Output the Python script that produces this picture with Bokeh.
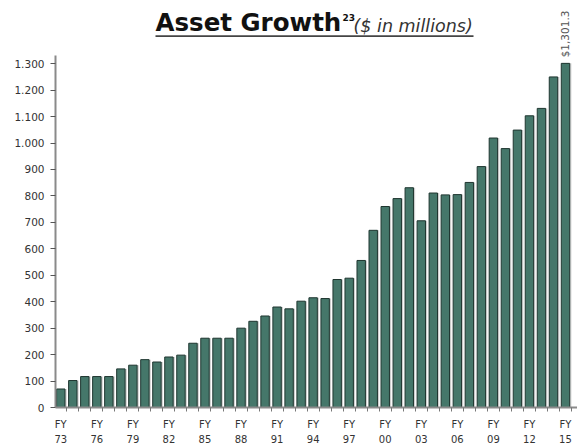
import math
from bokeh.plotting import figure
from bokeh.models import (ColumnDataSource, FixedTicker, Range1d, Label, BoxAnnotation)
from bokeh.transform import dodge
from bokeh.embed import file_html
from bokeh.resources import INLINE

# ---- data ----
years = ["73", "74", "75", "76", "77", "78", "79", "80", "81", "82", "83", "84", "85",
         "86", "87", "88", "89", "90", "91", "92", "93", "94", "95", "96", "97", "98",
         "99", "00", "01", "02", "03", "04", "05", "06", "07", "08", "09", "10", "11",
         "12", "13", "14", "15"]
assets = [70, 102, 117, 117, 117, 146, 160, 181, 172, 191, 198, 243, 262,
          262, 262, 300, 326, 346, 380, 373, 402, 415, 412, 484, 489, 556,
          670, 760, 790, 831, 706, 811, 804, 805, 851, 911, 1019, 979, 1049,
          1103, 1131, 1250, 1301.3]
y_ticks = [0, 100, 200, 300, 400, 500, 600, 700, 800, 900, 1000, 1100, 1200, 1300]
y_tick_labels = ["0", "100", "200", "300", "400", "500", "600", "700", "800", "900",
                 "1.000", "1.100", "1.200", "1.300"]
last_label = "$1,301.3"
title_main = "Asset Growth"
title_sup = "23"
title_sub = "($ in millions)"

idx = list(range(len(years)))
src = ColumnDataSource(dict(x=idx, y=assets))

W, H = 577, 448
LEFT, BOTTOM = 55, 39
FW, FH = W - LEFT, H - BOTTOM
X0, X1 = -0.44, 43.0
Y0, Y1 = 0, 1539
AXIS_TOP = 1331

p = figure(width=W, height=H, output_backend="svg", toolbar_location=None,
           x_range=Range1d(X0, X1), y_range=Range1d(Y0, Y1),
           min_border_left=LEFT, min_border_right=0, min_border_top=0,
           min_border_bottom=BOTTOM)
p.outline_line_color = None
p.xgrid.visible = False
p.ygrid.visible = False
p.background_fill_color = "white"
p.border_fill_color = "white"

# shadow + bars
p.vbar(x=dodge("x", 0.14, range=p.x_range), top="y", width=0.7, source=src,
       fill_color="#cfcfcf", line_color=None)
p.vbar(x="x", top="y", width=0.7, source=src,
       fill_color="#45776a", line_color="#1f3630", line_width=1)

# axes
xa = p.xaxis[0]
xa.ticker = FixedTicker(ticks=idx[::3], minor_ticks=[i - 0.5 for i in range(len(idx) + 1)])
xa.major_label_overrides = {i: "FY\n" + years[i] for i in idx[::3]}
xa.major_tick_line_color = None
xa.minor_tick_out = 4
xa.minor_tick_in = 0
xa.minor_tick_line_color = "#777777"
xa.axis_line_color = "#8a8a8a"
xa.axis_line_width = 2
xa.major_label_text_font = "DejaVu Sans"
xa.major_label_text_font_size = "10px"
xa.major_label_text_color = "#333333"
xa.major_label_text_line_height = 1.45
xa.major_label_standoff = 5

ya = p.yaxis[0]
ya.ticker = FixedTicker(ticks=y_ticks)
ya.major_label_overrides = dict(zip(y_ticks, y_tick_labels))
ya.bounds = (0, AXIS_TOP)
ya.minor_tick_line_color = None
ya.major_tick_out = 5
ya.major_tick_in = 0
ya.major_tick_line_color = "#555555"
ya.axis_line_color = "#8a8a8a"
ya.axis_line_width = 2
ya.major_label_text_font = "DejaVu Sans"
ya.major_label_text_font_size = "10.5px"
ya.major_label_text_color = "#333333"
ya.major_label_standoff = 6

# value label above last bar
p.add_layout(Label(x=idx[-1], y=assets[-1], text=last_label, angle=math.pi / 2,
                   text_align="left", text_baseline="middle", y_offset=6,
                   text_font="DejaVu Sans", text_font_size="10.5px", text_color="#555555"))

# title (positions converted from page pixels)
def px_x(px):
    return X0 + (px - LEFT) / FW * (X1 - X0)

def px_y(py, fs=0.0):
    py = py - 0.39 * fs
    return Y0 + (FH - py) / FH * (Y1 - Y0)

p.add_layout(Label(x=px_x(155), y=px_y(31.7, 24.5), text=title_main, text_align="left",
                   text_baseline="alphabetic", text_font="DejaVu Sans", text_font_style="bold",
                   text_font_size="24.5px", text_color="#111111"))
p.add_layout(Label(x=px_x(342), y=px_y(20.5, 9), text=title_sup, text_align="left",
                   text_baseline="alphabetic", text_font="DejaVu Sans", text_font_style="bold",
                   text_font_size="9px", text_color="#111111"))
p.add_layout(Label(x=px_x(353), y=px_y(32, 17.5), text=title_sub, text_align="left",
                   text_baseline="alphabetic", text_font="DejaVu Sans", text_font_style="italic",
                   text_font_size="17.5px", text_color="#333333"))
p.add_layout(BoxAnnotation(left=px_x(155), right=px_x(473), top=px_y(34.8), bottom=px_y(36.8),
                           fill_color="#444444", fill_alpha=1, line_color=None))

open("out.html", "w").write(file_html(p, INLINE))
